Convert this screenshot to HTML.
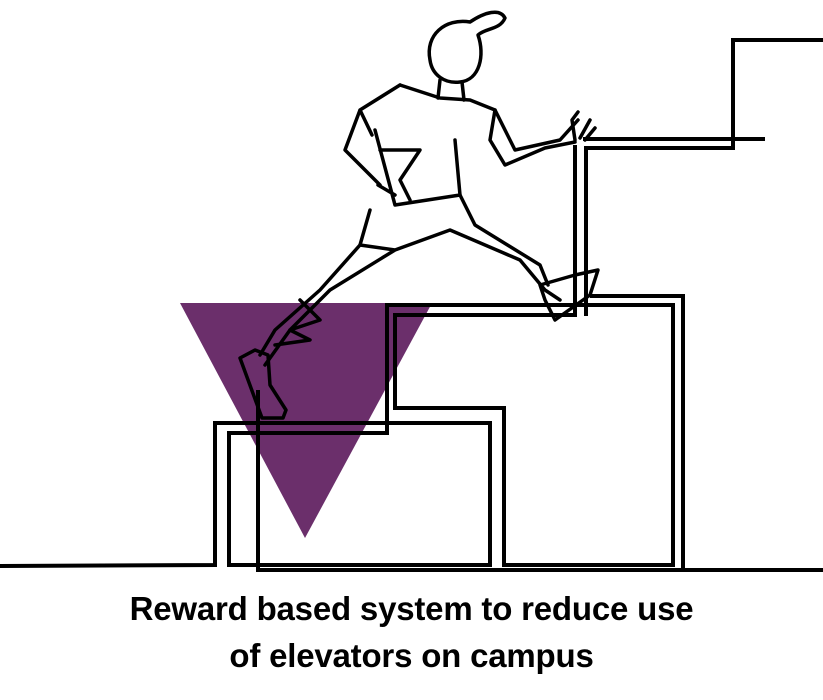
<!DOCTYPE html>
<html><head><style>
html,body{margin:0;padding:0;background:#fff;}
body{width:823px;height:700px;position:relative;overflow:hidden;}
.t{position:absolute;left:0;width:823px;text-align:center;font-family:"Liberation Sans",sans-serif;font-weight:bold;font-size:33px;color:#000;letter-spacing:-0.2px;}
</style></head><body>
<svg width="823" height="700" style="position:absolute;left:0;top:0">
<polygon points="180,303 432,303 305,538" fill="#6b2f6b"/>
<g fill="none" stroke="#000" stroke-width="4" stroke-linejoin="miter">
<polyline points="0,566 215,565 215,423 490,423 490,565 229,565 229,433 387,433 387,305 673,305 673,565 504,565 504,408 395,408 395,315 575,315 575,145"/>
<polyline points="258,390 258,570 823,570"/>
<polyline points="590,296 683,296 683,570"/>
<polyline points="586,316 586,148 733,148 733,40 823,40"/>
<polyline points="583,139 765,139"/>
</g>
<g fill="none" stroke="#000" stroke-width="3.5" stroke-linecap="round" stroke-linejoin="round">
<path d="M430,60 C425,35 445,18 470,22 C485,12 500,8 505,18 C500,30 485,28 478,35 C485,55 480,80 460,82 C445,84 432,75 430,60 Z"/>
<path d="M440,80 L438,98 M462,82 L464,100"/>
<path d="M400,85 L440,98 L470,100 L495,110 L515,150 L560,140 L578,120"/>
<path d="M400,85 L360,110 L345,150 L380,185 M360,110 L372,135"/>
<path d="M495,110 L490,140 L505,165 L545,148 L575,142"/>
<path d="M375,130 L395,205 L460,195 L455,140 M380,150 L420,150 L400,180 L410,200 M378,185 L395,195"/>
<path d="M575,140 L572,120 L578,112 M580,138 L590,120 M585,140 L595,128"/>
<path d="M370,210 L360,245 L395,250 L330,290 L290,330 L265,365 M395,250 L450,230 L520,260 L545,290 L560,300"/>
<path d="M460,195 L475,225 L540,265 L548,285"/>
<path d="M360,245 L320,290 L275,330 L260,355"/>
<path d="M540,285 L575,275 L598,270 L590,295 L555,320 L545,300 Z"/>
<path d="M255,350 L240,358 L262,418 L283,418 L286,410 L270,385 L268,355 Z"/>
<path d="M300,300 L320,320 L290,330 L310,340 L275,345"/>
</g>
</svg>
<div class="t" style="top:590px">Reward based system to reduce use</div>
<div class="t" style="top:637px">of elevators on campus</div>
</body></html>
